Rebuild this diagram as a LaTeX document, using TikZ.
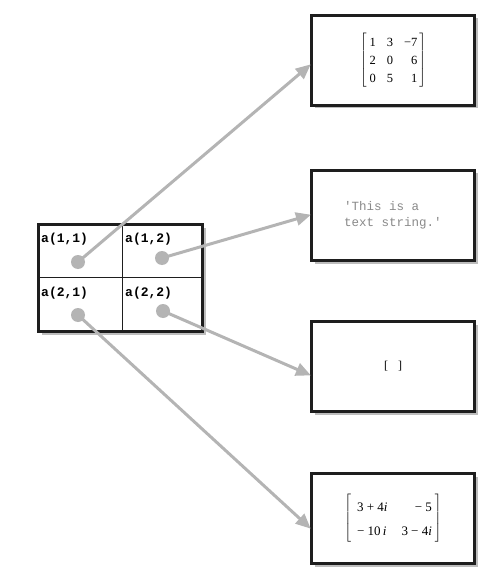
\documentclass[tikz,border=0pt]{standalone}
\usepackage{fontspec}
\usetikzlibrary{arrows.meta,shadows}
\newfontfamily\tms{Liberation Serif}
\newfontfamily\crr{Liberation Mono}
\definecolor{frame}{HTML}{1E1E1E}
\definecolor{link}{HTML}{B4B4B4}
\definecolor{shade}{HTML}{BDBDBD}
\definecolor{strtext}{HTML}{8A8A8A}
\tikzset{
  panel/.style={draw=frame, line width=3pt, fill=white, minimum width=163pt,
    minimum height=90pt, inner sep=0pt,
    drop shadow={shadow xshift=3pt, shadow yshift=-3pt, fill=shade, opacity=1}},
  cellgrid/.style={draw=frame, line width=3pt, fill=white, minimum width=164pt,
    minimum height=107pt, inner sep=0pt,
    drop shadow={shadow xshift=3pt, shadow yshift=-3pt, fill=shade, opacity=1}},
  celltag/.style={anchor=west, inner sep=0pt, font=\crr\bfseries\fontsize{13}{13}\selectfont},
  handle/.style={circle, fill=link, minimum size=14pt, inner sep=0pt},
  link/.style={draw=link, line width=3pt, -{Triangle[length=15pt,width=13pt]}, shorten >=-1pt}
}
\begin{document}
\begin{tikzpicture}[x=1pt,y=-1pt]
\useasboundingbox (0,0) rectangle (494,577);

% cell array with its four cells
\node[cellgrid] (arr) at (120.5,278) {};
\draw[frame, line width=0.9pt] (122,223) -- (122,333);
\draw[frame, line width=0.9pt] (38,277) -- (204,277);
\node[celltag] (t11) at (41,239) {a(1,1)};
\node[celltag] (t12) at (125,239) {a(1,2)};
\node[celltag] (t21) at (41,293) {a(2,1)};
\node[celltag] (t22) at (125,293) {a(2,2)};

% contents of each cell
\node[panel] (b1) at (393,60.5) {\tms\fontsize{12.5}{18}\selectfont
  $\left[\vcenter{\hbox{\begin{tabular}{@{\hspace{3pt}}c@{\hspace{11pt}}c@{\hspace{11pt}}r@{\hspace{2pt}}}
  1 & 3 & −7\\ 2 & 0 & 6\\ 0 & 5 & 1\end{tabular}}}\right]$};
\node[panel] (b2) at (393,215.5) {\color{strtext}\crr\fontsize{12.5}{16}\selectfont
  \begin{tabular}{@{}l@{}}'This is a\\ text string.'\end{tabular}};
\node[panel] (b3) at (393,366.5) {\tms\fontsize{12}{14}\selectfont[\hspace{10pt}]};
\node[panel] (b4) at (393,518.5) {\tms\fontsize{13}{17}\selectfont
  \renewcommand{\arraystretch}{1.45}%
  $\left[\vcenter{\hbox{\begin{tabular}{@{\hspace{6pt}}l@{\hspace{14pt}}r@{\hspace{3pt}}}
  3 + 4\textit{i} & − 5\hspace{12pt}\\ − 10\,\textit{i} & 3 − 4\textit{i}\end{tabular}}}\right]$};

% references from cells to their contents
\node[handle] (d11) at (78,262) {};
\node[handle] (d12) at (162,258) {};
\node[handle] (d21) at (78,315) {};
\node[handle] (d22) at (163,311) {};
\draw[link] (d11.center) -- ([yshift=-4.5pt]b1.west);
\draw[link] (d12.center) -- ([yshift=0.5pt]b2.west);
\draw[link] (d22.center) -- ([yshift=-8.5pt]b3.west);
\draw[link] (d21.center) -- ([yshift=-9.5pt]b4.west);
\end{tikzpicture}
\end{document}
